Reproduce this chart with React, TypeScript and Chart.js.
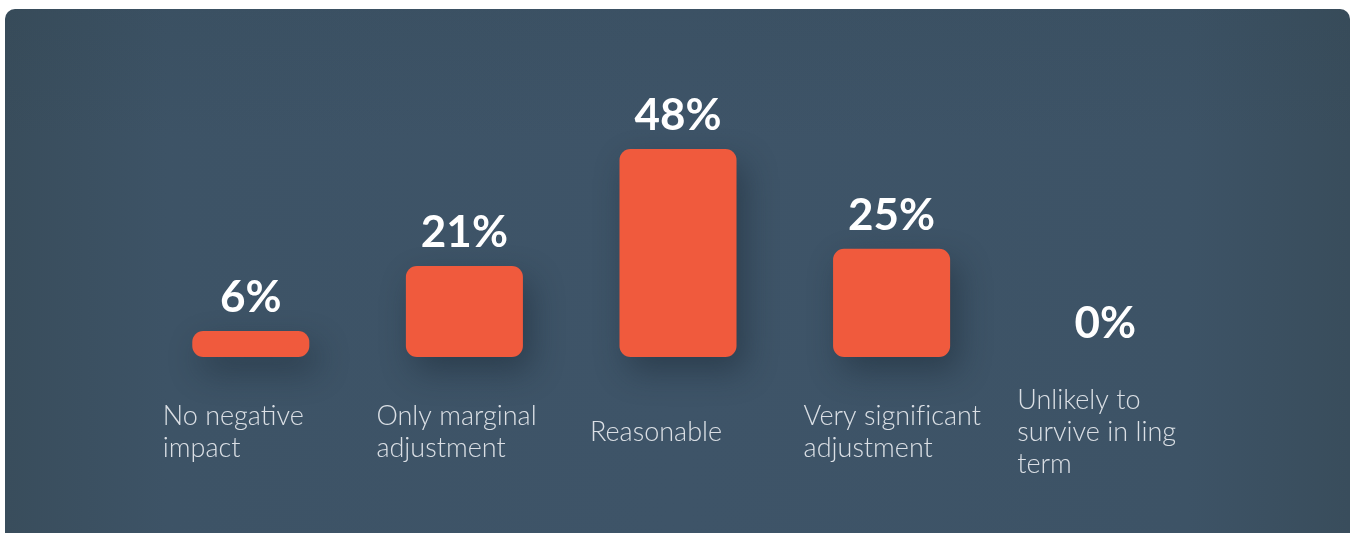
import React, { useEffect, useRef } from "react";
import { Chart, registerables } from "chart.js";

Chart.register(...registerables);

const categories: string[][] = [
  ["No negative", "impact"],
  ["Only marginal", "adjustment"],
  ["Reasonable"],
  ["Very signif\u200Cicant", "adjustment"],
  ["Unlikely to", "survive in ling", "term"],
];
const values: number[] = [6, 21, 48, 25, 0];
const valueLabels: string[] = ["6%", "21%", "48%", "25%", "0%"];

const BAR_COLOR = "#f05a3d";

const shadowPlugin = {
  id: "barShadow",
  beforeDatasetsDraw(chart: any) {
    const ctx = chart.ctx;
    ctx.save();
    ctx.shadowColor = "rgba(22, 36, 46, 0.45)";
    ctx.shadowBlur = 32;
    ctx.shadowOffsetX = 8;
    ctx.shadowOffsetY = 14;
  },
  afterDatasetsDraw(chart: any) {
    chart.ctx.restore();
  },
};

const labelsPlugin = {
  id: "customLabels",
  afterDraw(chart: any) {
    const ctx = chart.ctx;
    const meta = chart.getDatasetMeta(0);
    const yScale = chart.scales.y;
    const zeroY = yScale.getPixelForValue(0);
    ctx.save();
    ctx.shadowColor = "transparent";
    meta.data.forEach((bar: any, i: number) => {
      const x = bar.x;
      ctx.fillStyle = "#ffffff";
      ctx.font = "700 44px Lato";
      ctx.textAlign = "center";
      ctx.textBaseline = "alphabetic";
      ctx.fillText(valueLabels[i], x, bar.y - 19);
      const lines = categories[i];
      ctx.font = "300 27px Lato";
      ctx.fillStyle = "rgba(232, 236, 240, 0.92)";
      ctx.textAlign = "left";
      ctx.textBaseline = "middle";
      const lh = 32;
      const cy = zeroY + 75;
      const startY = cy - ((lines.length - 1) * lh) / 2;
      lines.forEach((ln, j) => {
        ctx.fillText(ln, x - 88, startY + j * lh);
      });
    });
    ctx.restore();
  },
};

export default function App() {
  const canvasRef = useRef<HTMLCanvasElement | null>(null);

  useEffect(() => {
    if (!canvasRef.current) return;
    const chart = new Chart(canvasRef.current, {
      type: "bar",
      data: {
        labels: categories.map((c) => c.join(" ")),
        datasets: [
          {
            data: values,
            backgroundColor: BAR_COLOR,
            borderRadius: 11,
            borderSkipped: false,
            barPercentage: 0.548,
            categoryPercentage: 1,
            clip: false,
          },
        ],
      },
      options: {
        animation: false,
        responsive: true,
        maintainAspectRatio: false,
        layout: { padding: { left: 139, right: 138, top: 88, bottom: 176 } },
        plugins: {
          legend: { display: false },
          tooltip: { enabled: false },
          title: { display: false },
        },
        scales: {
          x: { display: false },
          y: { display: false, min: 0, max: 60 },
        },
      },
      plugins: [shadowPlugin, labelsPlugin],
    });
    return () => chart.destroy();
  }, []);

  return (
    <div
      style={{
        position: "fixed",
        left: 5,
        top: 9,
        width: 1345,
        height: 524,
        borderRadius: "10px 10px 0 0",
        overflow: "hidden",
        background:
          "linear-gradient(90deg, #394d5c 0%, #3d5366 12%, #3e5468 50%, #3d5366 88%, #394d5c 100%)",
      }}
    >
      <div
        style={{
          position: "absolute",
          inset: 0,
          background: "linear-gradient(180deg, rgba(40,60,70,0.12) 0%, rgba(0,0,0,0) 25%)",
        }}
      />
      <div style={{ position: "absolute", inset: 0 }}>
        <canvas ref={canvasRef} />
      </div>
    </div>
  );
}
